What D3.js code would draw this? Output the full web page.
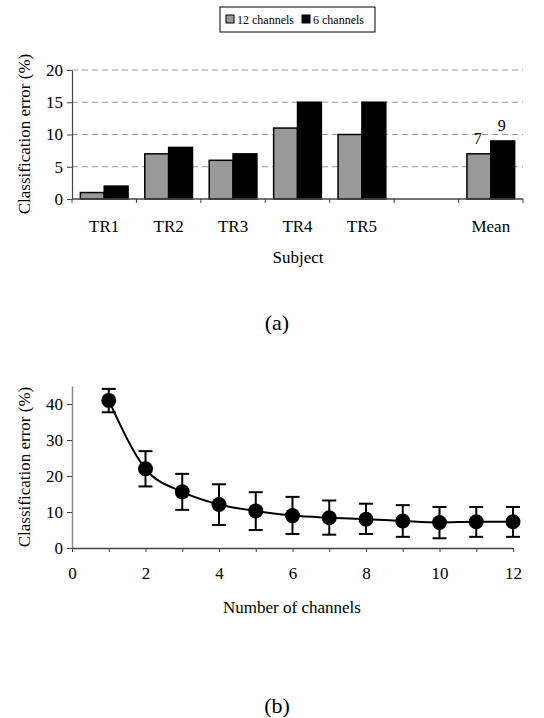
<!DOCTYPE html>
<html>
<head>
<meta charset="utf-8">
<script src="https://cdnjs.cloudflare.com/ajax/libs/d3/7.8.5/d3.min.js"></script>
<style>
  body { margin: 0; background: #fff; }
  svg { font-family: "Liberation Serif", "Times New Roman", serif; }
  .axis path, .axis line { stroke: #444; }
  .axis text { font-size: 17px; fill: #000; font-family: "Liberation Serif", serif; }
</style>
</head>
<body>
<div id="chart"></div>
<script>
// ---- data, panel (a)
var subjects = ["TR1", "TR2", "TR3", "TR4", "TR5", "", "Mean"];
var err12 = [1, 7, 6, 11, 10, null, 7];
var err6  = [2, 8, 7, 15, 15, null, 9];
var seriesNames = ["12 channels", "6 channels"];
var barColors = ["#999999", "#000000"];
var yTicksA = [0, 5, 10, 15, 20];

// ---- data, panel (b)
var channels = [1, 2, 3, 4, 5, 6, 7, 8, 9, 10, 11, 12];
var meanErr  = [41, 22, 15.6, 12.1, 10.3, 9.0, 8.4, 8.0, 7.5, 7.1, 7.3, 7.3];
var upperErr = [44.2, 26.9, 20.6, 17.7, 15.5, 14.2, 13.2, 12.3, 11.9, 11.4, 11.4, 11.4];
var lowerErr = [37.7, 17.1, 10.6, 6.4, 5.0, 3.9, 3.7, 3.9, 3.1, 2.7, 3.1, 3.1];
var yTicksB = [0, 10, 20, 30, 40];
var xTicksB = [0, 1, 2, 3, 4, 5, 6, 7, 8, 9, 10, 11, 12];

var svg = d3.select("#chart").append("svg")
  .attr("width", 544)
  .attr("height", 718);

// ================= panel (a) =================
var xA = d3.scaleBand()
  .domain(d3.range(subjects.length))
  .range([72, 523]);

var yA = d3.scaleLinear()
  .domain([0, 20])
  .range([199, 70]);

var inner = d3.scaleBand()
  .domain([0, 1])
  .range([0, xA.bandwidth()])
  .paddingInner(0)
  .paddingOuter(0.35);

// dashed grid
svg.append("g").selectAll("line")
  .data(yTicksA.filter(function(d) { return d > 0; }))
  .enter().append("line")
  .attr("x1", 72)
  .attr("x2", 523)
  .attr("y1", function(d) { return yA(d); })
  .attr("y2", function(d) { return yA(d); })
  .style("stroke", "#999")
  .style("stroke-dasharray", "6,4")
  .style("stroke-width", 1);

// bars
var groups = svg.append("g").selectAll("g")
  .data(subjects.map(function(s, i) { return { i: i, vals: [err12[i], err6[i]] }; }))
  .enter().append("g")
  .attr("transform", function(d) { return "translate(" + xA(d.i) + ",0)"; });

groups.selectAll("rect")
  .data(function(d) { return d.vals.map(function(v, k) { return { k: k, v: v }; }).filter(function(e) { return e.v != null; }); })
  .enter().append("rect")
  .attr("x", function(d) { return inner(d.k); })
  .attr("y", function(d) { return yA(d.v); })
  .attr("width", inner.bandwidth())
  .attr("height", function(d) { return yA(0) - yA(d.v); })
  .style("fill", function(d) { return barColors[d.k]; })
  .style("stroke", "#000")
  .style("stroke-width", 1.5);

// value labels on the mean bars
var meanIdx = subjects.length - 1;
svg.append("g").selectAll("text")
  .data([err12[meanIdx], err6[meanIdx]])
  .enter().append("text")
  .attr("x", function(d, k) { return xA(meanIdx) + inner(k) + inner.bandwidth() / 2 - 1; })
  .attr("y", function(d) { return yA(d) - 10; })
  .attr("text-anchor", "middle")
  .style("font-size", "16px")
  .text(function(d) { return d; });

// y axis
svg.append("g")
  .attr("class", "axis")
  .attr("transform", "translate(72,0)")
  .call(d3.axisLeft(yA).tickValues(yTicksA).tickSize(5).tickSizeOuter(0).tickPadding(4))
  .select(".domain").style("stroke-width", 1.2);

// x axis: line + boundary ticks + centred labels
var xAxisA = svg.append("g").attr("class", "axis");
xAxisA.append("line")
  .attr("x1", 72).attr("x2", 523)
  .attr("y1", yA(0)).attr("y2", yA(0))
  .style("stroke-width", 1.5);
xAxisA.selectAll(".bt")
  .data(d3.range(subjects.length + 1))
  .enter().append("line")
  .attr("class", "bt")
  .attr("x1", function(d) { return 72 + d * xA.step(); })
  .attr("x2", function(d) { return 72 + d * xA.step(); })
  .attr("y1", yA(0))
  .attr("y2", yA(0) + 4);
xAxisA.selectAll("text")
  .data(subjects)
  .enter().append("text")
  .attr("x", function(d, i) { return xA(i) + xA.bandwidth() / 2; })
  .attr("y", 232)
  .attr("text-anchor", "middle")
  .text(function(d) { return d; });

svg.append("text")
  .attr("transform", "translate(30,134) rotate(-90)")
  .attr("text-anchor", "middle")
  .style("font-size", "17px")
  .text("Classification error (%)");

svg.append("text")
  .attr("x", 298)
  .attr("y", 263)
  .attr("text-anchor", "middle")
  .style("font-size", "17px")
  .text("Subject");

// legend
var legend = svg.append("g");
legend.append("rect")
  .attr("x", 220).attr("y", 7)
  .attr("width", 155).attr("height", 25)
  .style("fill", "#fff")
  .style("stroke", "#000")
  .style("stroke-width", 1);
var legItems = legend.selectAll(".li")
  .data(seriesNames)
  .enter().append("g")
  .attr("class", "li")
  .attr("transform", function(d, i) { return "translate(" + (226 + i * 76) + ",15)"; });
legItems.append("rect")
  .attr("width", 8).attr("height", 8)
  .style("fill", function(d, i) { return barColors[i]; })
  .style("stroke", "#000");
legItems.append("text")
  .attr("x", 11).attr("y", 8.5)
  .style("font-size", "12px")
  .text(function(d) { return d; });

svg.append("text")
  .attr("x", 277).attr("y", 330)
  .attr("text-anchor", "middle")
  .style("font-size", "22px")
  .text("(a)");

// ================= panel (b) =================
var xB = d3.scaleLinear().domain([0, 12]).range([72, 513]);
var yB = d3.scaleLinear().domain([0, 45]).range([548, 386]);

svg.append("g")
  .attr("class", "axis")
  .attr("transform", "translate(72,0)")
  .call(d3.axisLeft(yB).tickValues(yTicksB).tickSize(5).tickSizeOuter(0).tickPadding(4))
  .select(".domain").style("stroke", "#888").style("stroke-width", 1.5);

svg.append("g")
  .attr("class", "axis")
  .attr("transform", "translate(0,548)")
  .call(d3.axisBottom(xB).tickValues(xTicksB).tickSize(4).tickSizeOuter(0).tickPadding(15)
    .tickFormat(function(d) { return d % 2 === 0 ? d : ""; }))
  .select(".domain").style("stroke-width", 1.5);

var pts = channels.map(function(c, i) {
  return { x: c, y: meanErr[i], hi: upperErr[i], lo: lowerErr[i] };
});

var line = d3.line()
  .curve(d3.curveMonotoneX)
  .x(function(d) { return xB(d.x); })
  .y(function(d) { return yB(d.y); });

svg.append("path")
  .datum(pts)
  .attr("d", line)
  .style("fill", "none")
  .style("stroke", "#000")
  .style("stroke-width", 2);

var eb = svg.append("g").selectAll("g")
  .data(pts)
  .enter().append("g");
eb.append("line")
  .attr("x1", function(d) { return xB(d.x); })
  .attr("x2", function(d) { return xB(d.x); })
  .attr("y1", function(d) { return yB(d.hi); })
  .attr("y2", function(d) { return yB(d.lo); })
  .style("stroke", "#000").style("stroke-width", 2);
eb.selectAll(".cap")
  .data(function(d) { return [{ x: d.x, v: d.hi }, { x: d.x, v: d.lo }]; })
  .enter().append("line")
  .attr("class", "cap")
  .attr("x1", function(d) { return xB(d.x) - 7; })
  .attr("x2", function(d) { return xB(d.x) + 7; })
  .attr("y1", function(d) { return yB(d.v); })
  .attr("y2", function(d) { return yB(d.v); })
  .style("stroke", "#000").style("stroke-width", 2);
eb.append("circle")
  .attr("cx", function(d) { return xB(d.x); })
  .attr("cy", function(d) { return yB(d.y); })
  .attr("r", 7.5)
  .style("fill", "#000");

svg.append("text")
  .attr("transform", "translate(30,467) rotate(-90)")
  .attr("text-anchor", "middle")
  .style("font-size", "17px")
  .text("Classification error (%)");

svg.append("text")
  .attr("x", 292)
  .attr("y", 613)
  .attr("text-anchor", "middle")
  .style("font-size", "17px")
  .text("Number of channels");

svg.append("text")
  .attr("x", 277).attr("y", 713)
  .attr("text-anchor", "middle")
  .style("font-size", "22px")
  .text("(b)");
</script>
</body>
</html>
